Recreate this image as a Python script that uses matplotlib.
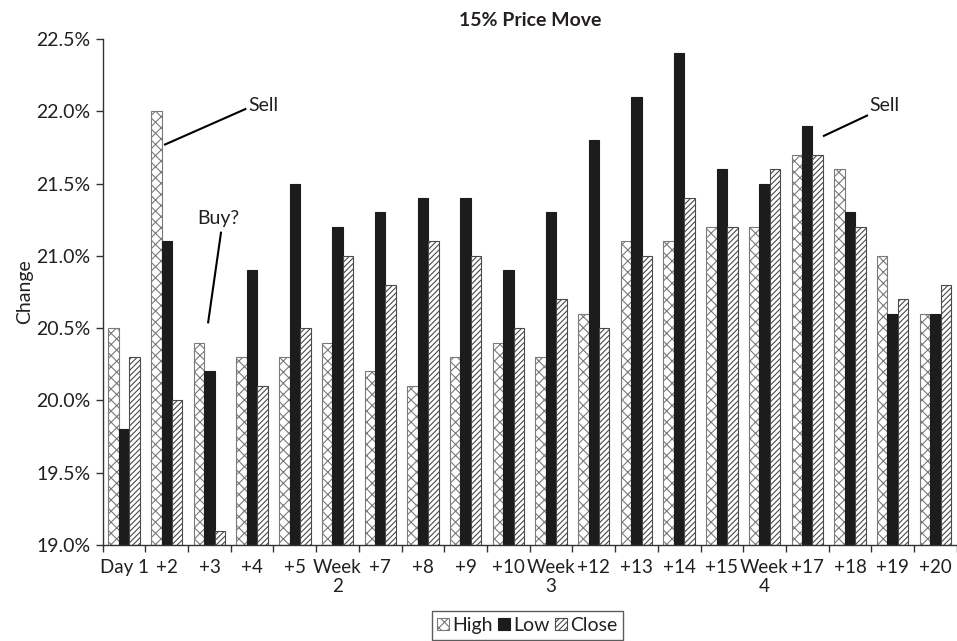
import numpy as np
import matplotlib
matplotlib.use("Agg")
from matplotlib import pyplot as plt

categories = ["Day 1", "+2", "+3", "+4", "+5", "Week\n2", "+7", "+8", "+9", "+10",
              "Week\n3", "+12", "+13", "+14", "+15", "Week\n4", "+17", "+18", "+19", "+20"]
high = [20.5, 22.0, 20.4, 20.3, 20.3, 20.4, 20.2, 20.1, 20.3, 20.4,
        20.3, 20.6, 21.1, 21.1, 21.2, 21.2, 21.7, 21.6, 21.0, 20.6]
low = [19.8, 21.1, 20.2, 20.9, 21.5, 21.2, 21.3, 21.4, 21.4, 20.9,
       21.3, 21.8, 22.1, 22.4, 21.6, 21.5, 21.9, 21.3, 20.6, 20.6]
close = [20.3, 20.0, 19.1, 20.1, 20.5, 21.0, 20.8, 21.1, 21.0, 20.5,
         20.7, 20.5, 21.0, 21.4, 21.2, 21.6, 21.7, 21.2, 20.7, 20.8]
y_ticks = [19.0, 19.5, 20.0, 20.5, 21.0, 21.5, 22.0, 22.5]

text_col = "#231f20"
plt.rcParams["font.family"] = ["Lato", "DejaVu Sans"]
plt.rcParams["hatch.linewidth"] = 0.8

fig = plt.figure(figsize=(9.57, 6.41), dpi=100)
ax = fig.add_axes([0.1073, 0.1498, 0.8924, 0.7894])

x = np.arange(len(categories))
w = 0.245
base = 19.0
ax.bar(x - w, np.array(high) - base, w, bottom=base, color="white",
       edgecolor="#7a7a7a", hatch="xxx", linewidth=0.8, label="High")
ax.bar(x, np.array(low) - base, w, bottom=base, color="#1c1c1c",
       edgecolor="#1c1c1c", linewidth=0.8, label="Low")
ax.bar(x + w, np.array(close) - base, w, bottom=base, color="white",
       edgecolor="#4a4a4a", hatch="//////", linewidth=0.8, label="Close")

ax.set_xlim(-0.5, len(categories) - 0.5)
ax.set_ylim(19.0, 22.5)
ax.set_yticks(y_ticks)
ax.set_yticklabels([f"{v:.1f}%" for v in y_ticks], fontsize=14, color=text_col)
ax.set_xticks(x)
ax.set_xticklabels(categories, fontsize=13.5, color=text_col, linespacing=1.15)
ax.set_xticks(np.arange(-0.5, len(categories) - 0.4, 1.0), minor=True)
ax.tick_params(axis="x", which="major", length=0, pad=10)
ax.tick_params(axis="x", which="minor", length=5, width=1, color="#333333")
ax.tick_params(axis="y", length=5, width=1, color="#333333", pad=4)

for side in ["top", "right"]:
    ax.spines[side].set_visible(False)
for side in ["left", "bottom"]:
    ax.spines[side].set_color("#333333")
    ax.spines[side].set_linewidth(1)

ax.set_ylabel("Change", fontsize=14, color=text_col, labelpad=2)
ax.set_title("15% Price Move", fontsize=14, fontweight="bold", color=text_col, pad=9)

# annotations
ax.plot([0.96, 2.84], [21.77, 22.015], color="black", lw=1.5)
ax.text(2.9, 22.04, "Sell", fontsize=14, color=text_col, va="center", ha="left")
ax.plot([2.27, 1.97], [21.16, 20.54], color="black", lw=1.5)
ax.text(2.2, 21.26, "Buy?", fontsize=14, color=text_col, va="center", ha="center")
ax.plot([16.39, 17.40], [21.83, 21.97], color="black", lw=1.5)
ax.text(17.45, 22.04, "Sell", fontsize=14, color=text_col, va="center", ha="left")

leg = fig.legend(loc="center", bbox_to_anchor=(0.551, 0.0245), ncol=3, fontsize=14,
                 frameon=True, fancybox=False, edgecolor="#333333",
                 handlelength=0.6, handleheight=0.6, handletextpad=0.15,
                 columnspacing=0.3, borderpad=0.3, borderaxespad=0)
leg.get_frame().set_linewidth(1)
for t in leg.get_texts():
    t.set_color(text_col)

fig.savefig("out.png", dpi=100)
